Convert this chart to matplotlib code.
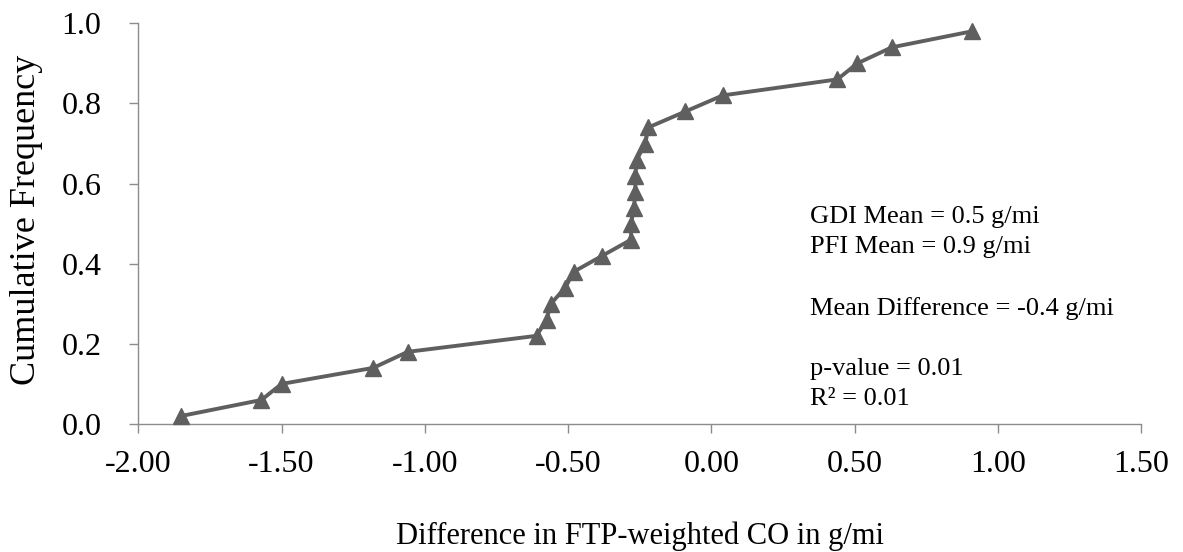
import numpy as np
import matplotlib
matplotlib.use("Agg")
import matplotlib.pyplot as plt

plt.rcParams['font.family'] = ['Liberation Serif', 'DejaVu Serif']

# differences in FTP-weighted CO (g/mi), sorted
co_diff = [-1.85, -1.57, -1.50, -1.18, -1.06, -0.61, -0.575, -0.56, -0.51, -0.48,
           -0.38, -0.28, -0.28, -0.27, -0.265, -0.265, -0.26, -0.23, -0.22, -0.09,
           0.04, 0.44, 0.51, 0.63, 0.91]
cum_freq = [0.02, 0.06, 0.10, 0.14, 0.18, 0.22, 0.26, 0.30, 0.34, 0.38,
            0.42, 0.46, 0.50, 0.54, 0.58, 0.62, 0.66, 0.70, 0.74, 0.78,
            0.82, 0.86, 0.90, 0.94, 0.98]

x_ticks = [-2.0, -1.5, -1.0, -0.5, 0.0, 0.5, 1.0, 1.5]
y_ticks = [0.0, 0.2, 0.4, 0.6, 0.8, 1.0]

stats_text = ("GDI Mean = 0.5 g/mi\n"
              "PFI Mean = 0.9 g/mi\n\n"
              "Mean Difference = -0.4 g/mi\n\n"
              "p-value = 0.01\n"
              "R\u00b2 = 0.01")

fig = plt.figure(figsize=(11.83, 5.52), dpi=100)
ax = fig.add_axes([0.1169, 0.2319, 0.8476, 0.7259])

ax.plot(co_diff, cum_freq, color='#5f5f5f', lw=2.8, marker='^', ms=12,
        clip_on=False, zorder=3)

ax.set_xlim(-2.0, 1.5)
ax.set_ylim(0.0, 1.0)
ax.set_xticks(x_ticks)
ax.set_xticklabels([f"{v:.2f}" for v in x_ticks])
ax.set_yticks(y_ticks)
ax.set_yticklabels([f"{v:.1f}" for v in y_ticks])

for s in ['top', 'right']:
    ax.spines[s].set_visible(False)
for s in ['left', 'bottom']:
    ax.spines[s].set_color('#8c8c8c')
    ax.spines[s].set_linewidth(1.0)

ax.tick_params(axis='both', colors='#8c8c8c', labelcolor='black', labelsize=23,
               length=6.5, width=1.0, direction='out')
ax.tick_params(axis='y', pad=20)
ax.tick_params(axis='x', pad=12)

ax.set_xlabel("Difference in FTP-weighted CO in g/mi", fontsize=22, va='center')
ax.set_ylabel("Cumulative Frequency", fontsize=26, va='center')
ax.xaxis.set_label_coords(0.5, -0.279)
ax.yaxis.set_label_coords(-0.111, 0.51)

ax.text(0.344, 0.5435, stats_text, fontsize=19, ha='left', va='top',
        linespacing=1.47)

fig.savefig("out.png", dpi=100)
